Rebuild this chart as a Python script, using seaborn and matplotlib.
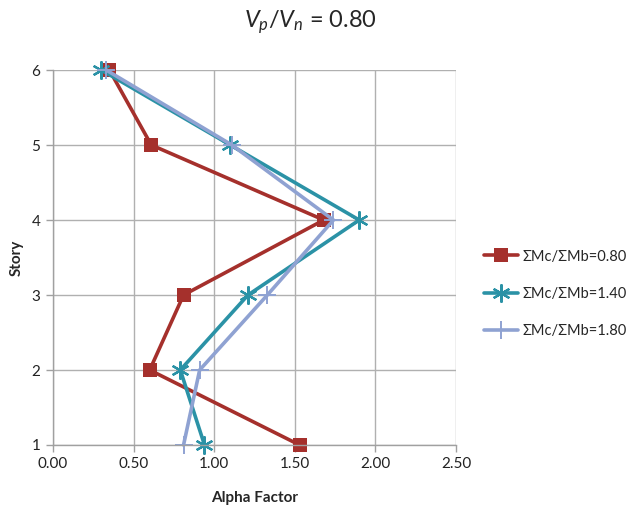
import matplotlib
matplotlib.use("Agg")
import matplotlib.pyplot as plt
import seaborn as sns
import pandas as pd

stories = [1, 2, 3, 4, 5, 6]
alpha_080 = [1.53, 0.60, 0.81, 1.68, 0.61, 0.35]
alpha_140 = [0.94, 0.79, 1.21, 1.90, 1.10, 0.30]
alpha_180 = [0.81, 0.91, 1.33, 1.74, 1.11, 0.33]
series_names = ["ΣMc/ΣMb=0.80", "ΣMc/ΣMb=1.40", "ΣMc/ΣMb=1.80"]
x_ticks = [0.0, 0.5, 1.0, 1.5, 2.0, 2.5]

sns.set_theme(style="white")
plt.rcParams["font.family"] = ["Lato", "DejaVu Sans"]
plt.rcParams["mathtext.fontset"] = "custom"
plt.rcParams["mathtext.it"] = "Lato:italic"
plt.rcParams["mathtext.rm"] = "Lato"

fig = plt.figure(figsize=(6.33, 5.16), dpi=100)
ax = fig.add_axes([0.0837, 0.1376, 0.6366, 0.7267])

styles = [
    dict(color="#A5302C", marker="s", markersize=10, markeredgewidth=0),
    dict(color="#2B92A6", marker=(6, 2, 0), markersize=13, markeredgewidth=1.6),
    dict(color="#8FA2D2", marker="+", markersize=13, markeredgewidth=1.4),
]
for name, vals, st in zip(series_names, [alpha_080, alpha_140, alpha_180], styles):
    df = pd.DataFrame({"alpha": vals, "story": stories})
    sns.lineplot(data=df, x="alpha", y="story", sort=False, orient="y",
                 ax=ax, label=name, linewidth=2.6,
                 markeredgecolor=st["color"], **st)

ax.set_xlim(0, 2.5)
ax.set_ylim(1, 6)
ax.set_xticks(x_ticks)
ax.set_xticklabels([f"{t:.2f}" for t in x_ticks])
ax.set_yticks(stories)
ax.grid(True, color="#B0B0B0", linewidth=1.0)
for s in ["top", "right"]:
    ax.spines[s].set_visible(False)
for s in ["left", "bottom"]:
    ax.spines[s].set_color("#A0A0A0")
    ax.spines[s].set_linewidth(1.0)
ax.tick_params(axis="both", which="both", length=5, width=1, color="#A0A0A0",
               labelsize=11, labelcolor="#222222", direction="out",
               bottom=True, left=True, pad=4)
ax.set_axisbelow(True)
for art in ax.lines:
    art.set_clip_on(False)

ax.set_xlabel("Alpha Factor", fontsize=11, fontweight="bold", labelpad=14)
ax.set_ylabel("Story", fontsize=11, fontweight="bold", labelpad=6)

fig.text(0.49, 0.958, r"$V_p/V_n$ = 0.80", ha="center", va="center", fontsize=17)

ax.legend(loc="center left", bbox_to_anchor=(1.07, 0.403), frameon=False,
          borderaxespad=0, borderpad=0, fontsize=10.5, handlelength=2.3,
          labelspacing=1.6, handletextpad=0.3)

fig.savefig("out.png", dpi=100)
